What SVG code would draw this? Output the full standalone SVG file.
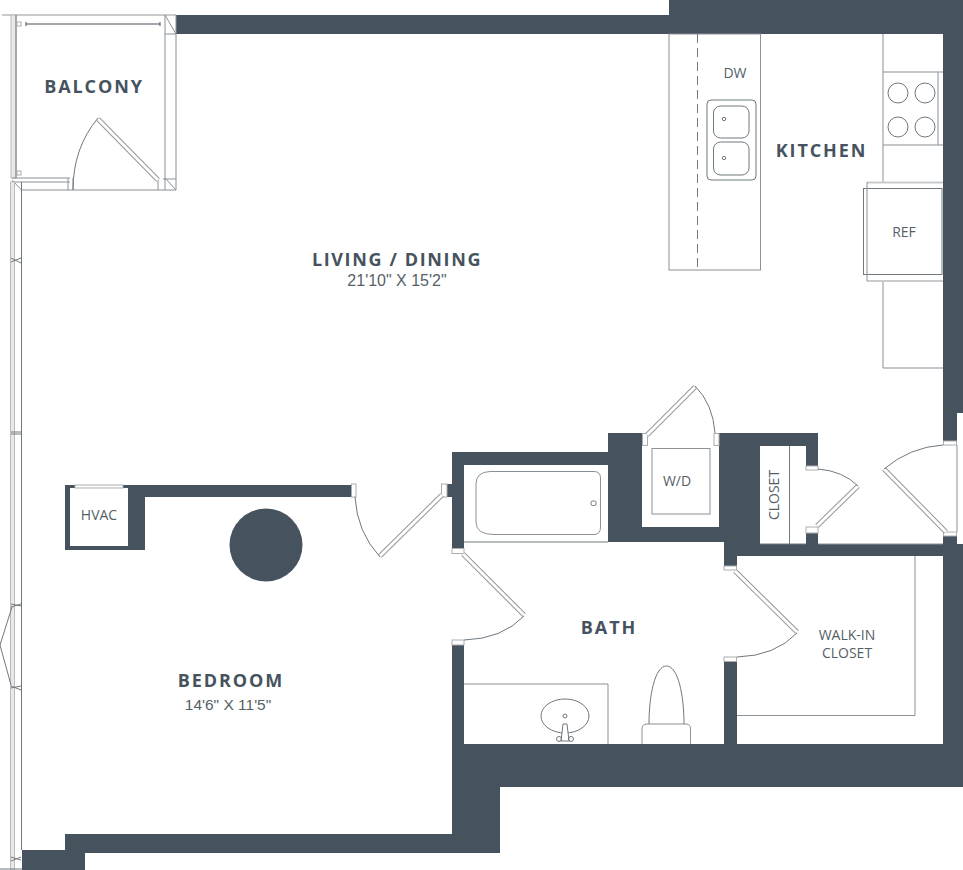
<svg xmlns="http://www.w3.org/2000/svg" width="963" height="870" viewBox="0 0 963 870">
<style>
.w{fill:#46535e}
.l{fill:none;stroke:#8b9196;stroke-width:1}
.d{fill:none;stroke:#6f787f;stroke-width:1}
.g{fill:none;stroke:#c9cbcd;stroke-width:2}
.j{fill:#fff;stroke:#a9adb0;stroke-width:1}
.lo{stroke:#93989c;stroke-width:5;fill:none}
.li{stroke:#fff;stroke-width:3;fill:none}
.band{fill:#e9e9e9;stroke:#b9bcbf;stroke-width:1}
.t{font-family:"Open Sans","Noto Sans",sans-serif;fill:#46535e;text-anchor:middle}
.b{font-weight:700;font-size:18px;letter-spacing:1.9px}
.s{font-size:14px;fill:#555f68}
.m{font-family:"Liberation Sans",Arial,sans-serif;font-size:16px;fill:#555f68;text-anchor:middle}
</style>
<rect width="963" height="870" fill="#fff"/>
<g id="walls">
<path class="w" d="M176 15H669V0H963V413H957V441H943V34H176Z"/>
<path class="w" d="M943 536H957V544H963V787H500V853H85V870H22V850H65V834H452V645H464V744H724V661H737V744H943V556H737V566H724V542H642V527H719V446H714V433H818V466H806V446H760V544H806V533H818V544H943Z"/>
<path class="w" d="M452 452H608V433H648V445H642V542H608V465H464V548H452Z"/>
<path class="w" d="M65 485H352V497H145V550H65ZM70 488V546H128V488Z" fill-rule="evenodd"/>
<rect class="w" x="447" y="484" width="6" height="13"/>
<circle class="w" cx="266" cy="545" r="36.5"/>
</g>
<g id="balcony">
<path class="g" d="M2 15H176"/>
<rect class="band" x="11" y="15" width="5" height="163"/>
<path class="d" d="M16 15V178"/>
<path class="l" d="M165 15V190M176 15V190M165 34H176M165 15L176 34M165 178L176 190M12 178H70M12 182H70M21.500 190H176M163 179H176M12 180L21.500 190M68 178V190M73 178V190M158 178V190"/>
<rect class="j" x="17" y="22" width="4" height="4"/>
<rect class="j" x="17" y="171" width="4" height="4"/>
<path d="M26 24H160M26 22V26M160 22V26" fill="none" stroke="#46535e" stroke-width="1"/>
<path class="lo" d="M98 119L158 180"/><path class="li" d="M98 119L158 180"/>
<path class="d" d="M73 190Q73 148 98 118"/>
</g>
<g id="window-wall">
<rect class="band" x="10.500" y="182" width="4" height="688"/>
<path class="d" d="M21.500 182V850M11 258L21 263M11 262L21 258M11 432H21M11 434H21M11 604L21 606M11 607L21 604M12 607L0 645L11 685M11 686L21 690M11 688L21 686M11 857L21 860M11 861L21 857M0 869H22"/>
</g>
<g id="kitchen">
<rect class="l" x="669" y="34" width="91.500" height="236"/>
<path class="d" d="M697.500 34V270" stroke-dasharray="9 5"/>
<rect class="d" x="707" y="100" width="49" height="80" rx="4"/>
<rect class="d" x="713.500" y="106" width="35.500" height="32" rx="7"/>
<rect class="d" x="713.500" y="142" width="35.500" height="33" rx="7"/>
<circle class="d" cx="724" cy="119" r="1.700"/>
<circle class="d" cx="724" cy="158" r="1.700"/>
<path class="l" d="M883 34V182M883 282V368H943M883 72H943M883 145H943M938 72V145"/>
<circle class="d" cx="898" cy="93" r="10"/><circle class="d" cx="925" cy="93" r="10"/>
<circle class="d" cx="898" cy="127" r="10"/><circle class="d" cx="925" cy="127" r="10"/>
<path class="g" d="M867 182.500H943M867 281H943"/>
<rect x="863.500" y="188.500" width="78.500" height="86" fill="#fff" stroke="#6f787f"/>
<path class="l" d="M867 182V281"/>
<text class="t s" x="735" y="78">DW</text>
<text class="t s" x="904" y="237">REF</text>
<text class="t b" x="821.500" y="156.500">KITCHEN</text>
</g>
<g id="laundry">
<rect class="l" x="652" y="448.500" width="58" height="65.500"/>
<rect class="j" x="642.500" y="433.500" width="5" height="12"/>
<rect class="j" x="714" y="433.500" width="5" height="12"/>
<path class="lo" d="M647 435L695 387"/><path class="li" d="M647 435L695 387"/>
<path class="d" d="M695 386Q713 404 715 433"/>
<text class="t s" x="677" y="486">W/D</text>
</g>
<g id="closet">
<path class="d" d="M789.500 446V544M760 544H806"/>
<rect class="j" x="806" y="466" width="12" height="4"/>
<rect class="j" x="806" y="527" width="12" height="6"/>
<path class="lo" d="M817 526L858 486"/><path class="li" d="M817 526L858 486"/>
<path class="d" d="M818 469Q843 471 858 486"/>
<text class="t s" transform="translate(779 495) rotate(-90)">CLOSET</text>
</g>
<g id="entry">
<rect class="j" x="943.500" y="441" width="13" height="4"/>
<rect class="j" x="943.500" y="532" width="13" height="4"/>
<path class="l" d="M957 445V532M818 544H943"/>
<path class="lo" d="M884 469L946 532"/><path class="li" d="M884 469L946 532"/>
<path class="d" d="M884 469Q910 447 943 445"/>
</g>
<g id="bath">
<path class="l" d="M490 471.500H594Q600.500 471.500 600.500 478V527Q600.500 534.500 594 534.500H494Q476 534.500 476 522V484Q476 472 490 471.500Z"/>
<rect class="d" x="591" y="501" width="5" height="4.500" rx="1.500"/>
<path class="d" d="M464 542H608"/>
<path class="l" d="M464 684H608V744"/>
<ellipse class="d" cx="565" cy="716" rx="24" ry="17"/>
<circle class="d" cx="565" cy="716" r="2"/>
<path d="M561 741L563 724H567L569 741Z" fill="#fff" stroke="#6f787f"/>
<circle class="d" cx="559" cy="739" r="2.500"/><circle class="d" cx="571" cy="739" r="2.500"/>
<path class="d" d="M649 724C649 695 655 666 666.500 666C678 666 684 695 684 724"/>
<path class="l" d="M642 744V729Q642 724 647 724H686Q690.500 724 690.500 729V744"/>
<rect class="j" x="452" y="548.500" width="12" height="5"/>
<rect class="j" x="452" y="640" width="12" height="5"/>
<path class="lo" d="M463 554L524 615"/><path class="li" d="M463 554L524 615"/>
<path class="d" d="M464 640Q502 639 524 616"/>
<rect class="j" x="724" y="566" width="12.500" height="4"/>
<rect class="j" x="724" y="657" width="12.500" height="4.500"/>
<text class="t b" x="609" y="633.500">BATH</text>
</g>
<g id="walk-in">
<path class="l" d="M915 556V715.500H737"/>
<path class="lo" d="M735 571L797 632"/><path class="li" d="M735 571L797 632"/>
<path class="d" d="M737 657Q775 656 797 633"/>
<text class="t s" x="847" y="640">WALK-IN</text>
<text class="t s" x="847" y="658">CLOSET</text>
</g>
<g id="bedroom">
<rect class="j" x="75" y="485" width="48" height="3"/>
<rect class="j" x="351.500" y="484" width="4.500" height="13"/>
<rect class="j" x="441.500" y="484" width="5.500" height="13"/>
<path class="lo" d="M380 556L442 495"/><path class="li" d="M380 556L442 495"/>
<path class="d" d="M355 497Q357 532 380 557"/>
<text class="t s" x="99" y="520">HVAC</text>
<text class="t b" x="231" y="686.500">BEDROOM</text>
<text class="m" x="228" y="710" style="font-size:15.500px">14'6" X 11'5"</text>
</g>
<g id="living">
<text class="t b" x="397" y="265.500" style="letter-spacing:1.630px">LIVING / DINING</text>
<text class="m" x="397" y="285.500">21'10" X 15'2"</text>
<text class="t b" x="94" y="92.500">BALCONY</text>
</g>
</svg>
